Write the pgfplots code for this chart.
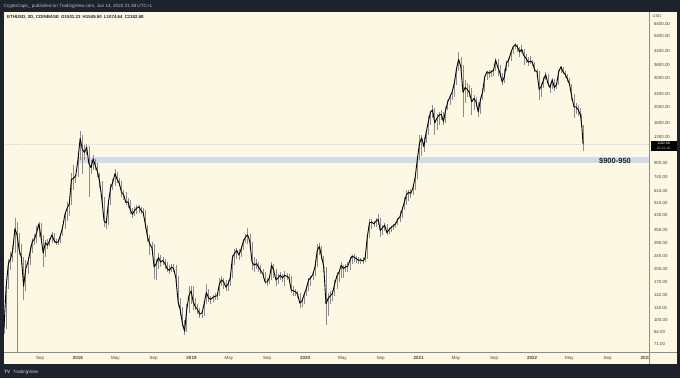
\documentclass[border=0pt]{standalone}
\usepackage{pgfplots}
\pgfplotsset{compat=1.18}
\usepackage{pgfplotstable}
\usepackage{fontspec}
\setmainfont{Liberation Sans}
\definecolor{tvdark}{RGB}{30,34,45}
\definecolor{cream}{RGB}{252,248,228}
\definecolor{band}{RGB}{210,219,232}
\definecolor{wick}{RGB}{140,140,140}
\definecolor{txt}{RGB}{70,70,70}

% weekly candles: w = weeks since 1 May 2017, c = close, h = high, l = low
\pgfplotstableread{
w c h l
0 88 97 72
1 90 98 82
2 160 170 88
3 220 235 155
4 235 260 200
5 265 285 225
6 360 418 255
7 330 395 40
8 265 340 250
9 240 290 215
10 160 240 132
11 205 230 150
12 225 240 190
13 260 280 215
14 300 315 255
15 310 335 285
16 340 375 295
17 385 395 320
18 320 390 295
19 255 330 210
20 295 305 240
21 285 310 270
22 305 315 280
23 330 345 295
24 305 340 295
25 295 310 285
26 300 310 285
27 330 340 295
28 370 380 325
29 440 455 360
30 480 520 400
31 510 520 430
32 720 790 500
33 730 880 620
34 760 780 680
35 950 1000 740
36 1280 1420 950
37 1100 1350 780
38 1050 1160 950
39 1130 1180 1020
40 900 1150 560
41 850 950 780
42 960 1010 820
43 870 960 820
44 800 900 740
45 690 790 640
46 540 700 500
47 400 560 370
48 390 420 360
49 520 540 380
50 640 670 500
51 690 720 620
52 780 830 660
53 720 800 680
54 680 730 660
55 600 700 560
56 580 620 540
57 520 600 500
58 525 550 480
59 470 540 440
60 440 480 420
61 465 490 430
62 480 500 440
63 490 500 450
64 465 490 440
65 450 480 430
66 380 470 360
67 320 380 300
68 290 330 250
69 275 300 255
70 210 290 178
71 220 235 175
72 240 255 205
73 225 250 210
74 230 240 215
75 220 235 205
76 205 225 195
77 200 215 190
78 210 220 195
79 205 220 195
80 180 215 170
81 130 185 120
82 115 135 105
83 95 120 90
84 85 100 81
85 115 125 84
86 140 160 110
87 150 160 125
88 128 160 115
89 120 135 115
90 115 125 108
91 108 118 102
92 110 115 102
93 125 130 105
94 147 165 125
95 136 155 128
96 133 140 125
97 137 142 128
98 139 145 132
99 140 145 132
100 165 180 140
101 175 185 160
102 170 180 155
103 158 175 150
104 165 175 150
105 180 190 160
106 240 250 180
107 255 270 215
108 265 275 235
109 248 270 230
110 270 280 240
111 300 310 265
112 320 335 295
113 330 364 290
114 300 335 280
115 225 300 200
116 215 240 195
117 220 235 205
118 210 225 195
119 200 215 190
120 190 205 180
121 170 195 165
122 170 180 160
123 180 185 165
124 215 225 175
125 200 220 180
126 175 205 160
127 180 190 165
128 187 195 175
129 180 190 170
130 187 198 160
131 184 192 175
132 180 190 170
133 152 185 145
134 150 160 140
135 148 155 140
136 143 150 135
137 126 145 118
138 130 135 120
139 143 148 125
140 155 160 140
141 175 180 150
142 180 185 160
143 190 195 175
144 211 230 185
145 265 290 210
146 280 294 250
147 242 280 230
148 211 245 195
149 125 210 93
150 135 145 105
151 140 150 125
152 145 152 130
153 165 175 140
154 185 195 155
155 195 200 170
156 215 225 180
157 205 215 180
158 210 220 195
159 212 225 195
160 230 240 200
161 245 250 220
162 240 252 225
163 236 245 222
164 230 240 220
165 232 238 220
166 228 240 220
167 238 245 225
168 320 330 235
169 390 410 315
170 395 410 360
171 385 400 370
172 400 420 370
173 410 445 380
174 350 420 322
175 365 380 330
176 378 390 350
177 340 385 330
178 355 365 335
179 367 375 345
180 375 385 355
181 386 395 365
182 410 420 380
183 425 460 395
184 470 490 420
185 520 560 470
186 580 620 500
187 600 620 530
188 590 630 550
189 640 660 580
190 740 760 620
191 950 1000 720
192 1200 1350 950
193 1290 1350 1000
194 1140 1300 1060
195 1380 1450 1200
196 1600 1750 1350
197 1850 1880 1550
198 1910 2040 1700
199 1590 1950 1345
200 1700 1800 1450
201 1780 1850 1550
202 1800 1900 1650
203 1620 1850 1550
204 1900 2000 1600
205 2140 2200 1900
206 2300 2400 2050
207 2460 2550 2200
208 2780 2800 2300
209 3400 3500 2700
210 3900 4320 3300
211 3500 4000 3300
212 2450 3600 1730
213 2620 2900 2100
214 2550 2800 2300
215 2420 2700 2300
216 2140 2600 1780
217 2250 2350 1900
218 2140 2300 2000
219 1860 2150 1720
220 2200 2300 1800
221 2460 2600 2200
222 3040 3100 2450
223 3270 3300 2900
224 3200 3350 3000
225 3270 3350 3050
226 3330 3400 3100
227 3850 3950 3300
228 3470 3900 3100
229 3210 3600 3000
230 2830 3200 2730
231 3040 3400 2800
232 3710 3800 3300
233 3850 3950 3500
234 4270 4350 3800
235 4630 4700 4200
236 4780 4900 4500
237 4630 4800 4300
238 4320 4650 4050
239 4480 4750 4250
240 4090 4500 3600
241 3950 4200 3700
242 3740 4050 3550
243 3800 4100 3650
244 3710 3850 3550
245 3330 3750 3250
246 3270 3400 3000
247 2550 3300 2200
248 2650 2800 2300
249 2920 3050 2600
250 3140 3280 2900
251 2790 3150 2650
252 2620 2800 2420
253 2920 3000 2550
254 2620 2950 2500
255 2730 2800 2550
256 3270 3350 2700
257 3500 3550 3200
258 3270 3500 3150
259 3140 3300 3000
260 2960 3150 2850
261 2730 3000 2700
262 2300 2750 2200
263 2000 2400 1700
264 1990 2100 1800
265 1910 2050 1750
266 1780 1950 1720
266.6 1531 1800 1500
267.2 1182.68 1545.5 1074.64
}\ethdata

\begin{document}
\begin{tikzpicture}[x=1pt,y=1pt]
\useasboundingbox (0,0) rectangle (680,378);
\fill[tvdark] (0,0) rectangle (680,378);
\fill[cream] (4,14) rectangle (677,366);
\begin{axis}[
  at={(4pt,26pt)}, anchor=south west,
  width=645pt, height=340pt, scale only axis,
  xmin=0.993, xmax=297.51,
  ymode=log, ymin=63.5, ymax=7576,
  axis line style={draw=none},
  major tick length=0pt, minor tick length=0pt, minor tick num=0,
  yticklabel pos=right,
  ytick={71,84,100,118,142,170,205,245,295,355,435,515,615,740,900,1300,1600,2000,2400,3000,3600,4400,5400,6400},
  yticklabels={71.00,84.00,100.00,118.00,142.00,170.00,205.00,245.00,295.00,355.00,435.00,515.00,615.00,740.00,900.00,1300.00,1600.00,2000.00,2400.00,3000.00,3600.00,4400.00,5400.00,6400.00},
  xtick={17.58,35.01,52.18,69.76,87.19,104.36,121.94,139.37,156.54,174.12,191.55,208.71,226.30,243.73,260.89,278.48,295.90},
  xticklabels={Sep,\textbf{2018},May,Sep,\textbf{2019},May,Sep,\textbf{2020},May,Sep,\textbf{2021},May,Sep,\textbf{2022},May,Sep,\textbf{2023}},
  yticklabel style={font=\fontsize{4.4}{5}\selectfont, text=txt, anchor=west, xshift=1.5pt},
  xticklabel style={font=\fontsize{4.5}{5}\selectfont, text=txt, yshift=-0.5pt},
  /pgf/number format/assume math mode=true,
]
\addplot[draw=none, fill=band] coordinates {(34.55,900) (297.51,900) (297.51,980) (34.55,980)} -- cycle;
\addplot[black!18, line width=0.4pt, dash pattern=on 0.6pt off 1.4pt] coordinates {(0.993,1182.68) (297.51,1182.68)};
\addplot[draw=none, mark=none, error bars/.cd, y dir=both, y explicit, error mark=none,
  error bar style={wick, line width=0.6pt}]
  table[x=w, y=c, y error plus expr=\thisrow{h}-\thisrow{c}, y error minus expr=\thisrow{c}-\thisrow{l}] {\ethdata};
\addplot[black, line width=0.9pt, line join=round, mark=none] table[x=w, y=c] {\ethdata};
\end{axis}
\fill[cream] (649.5,14.2) rectangle (676.8,25.7);
\draw[black!45, line width=0.5pt] (649,14) -- (649,366);
\draw[black!45, line width=0.5pt] (4,26) -- (677,26);
\fill[black] (650.5,226.7) rectangle (677,237.3);
\node[font=\fontsize{3.6}{4}\selectfont, text=white, inner sep=0] at (663.7,234.4) {1182.68};
\node[font=\fontsize{3.4}{4}\selectfont, text=white!70!black, inner sep=0] at (663.7,229.4) {03:21:20};
\node[anchor=west, font=\fontsize{4}{4}\selectfont, text=txt, inner sep=0] at (652.5,362) {USD};
\node[font=\bfseries\fontsize{7.5}{8}\selectfont, text=tvdark] at (615,217.3) {\$900-950};
\node[anchor=west, font=\fontsize{4.6}{5}\selectfont, text=white!75!black, inner sep=0] at (3.3,372) {CryptoCapo\_ published on TradingView.com, Jun 14, 2022 21:38 UTC+1};
\node[anchor=west, font=\bfseries\fontsize{4.4}{5}\selectfont, text=tvdark, inner sep=0] at (7,361) {ETHUSD, 3D, COINBASE\enspace O1531.23\enspace H1545.50\enspace L1074.64\enspace C1182.68};
\node[anchor=west, font=\fontsize{4.6}{5}\selectfont, text=white!80!black, inner sep=0] at (4,6) {\textbf{TV}\,\, TradingView};
\end{tikzpicture}
\end{document}
